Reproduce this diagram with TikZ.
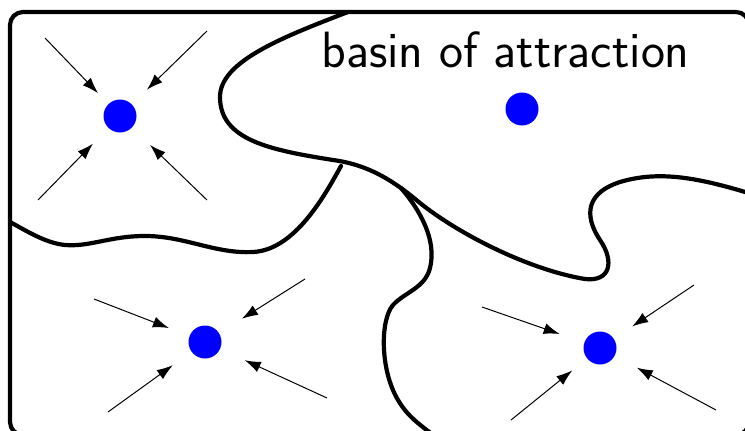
\documentclass[tikz,border=0pt]{standalone}
\usepackage{fontspec}
\usetikzlibrary{arrows.meta}
\begin{document}
\begin{tikzpicture}[x=1pt,y=-1pt,
  boundary/.style={line width=4.2pt, line cap=round, line join=round},
  attractor/.style={circle, fill=blue, minimum size=33pt, inner sep=0pt},
  flow/.style={line width=1pt, -{Latex[length=16pt,width=11pt]}},
]
\useasboundingbox (0,0) rectangle (745,431);
\clip (0,0) rectangle (745,431);
\draw[boundary, rounded corners=13pt] (10,12) rectangle (749,435);
% curve A
\draw[boundary] (348,12) .. controls (280,38) and (220,62) .. (220,97)
  .. controls (220,140) and (270,150) .. (333,160)
  .. controls (370,165) and (395,182) .. (420,203)
  .. controls (460,235) and (530,270) .. (585,279)
  .. controls (610,282) and (615,262) .. (600,240)
  .. controls (588,222) and (580,195) .. (620,182)
  .. controls (660,170) and (700,178) .. (755,195);
% curve B
\draw[boundary] (341,166) .. controls (325,195) and (295,250) .. (253,252)
  .. controls (215,254) and (185,236) .. (145,236)
  .. controls (110,236) and (90,247) .. (65,245)
  .. controls (45,243) and (25,230) .. (10,222);
% curve C
\draw[boundary] (401,188) .. controls (420,210) and (437,240) .. (430,268)
  .. controls (425,288) and (405,292) .. (393,305)
  .. controls (380,320) and (380,370) .. (398,400)
  .. controls (408,417) and (420,425) .. (440,440);
\node[font=\sffamily\fontsize{51}{60}\selectfont, anchor=base] (lbl) at (505.5,67) {basin of attraction};
\node[attractor] (d1) at (120,116) {};
\node[attractor] (d2) at (522,109) {};
\node[attractor] (d3) at (205,342) {};
\node[attractor] (d4) at (600,348) {};
% arrow sources
\coordinate (s1a) at (45,38);
\coordinate (s1b) at (207,31);
\coordinate (s1c) at (38,200);
\coordinate (s1d) at (207,200);
\coordinate (s3a) at (94,299);
\coordinate (s3b) at (305,279);
\coordinate (s3c) at (108,412);
\coordinate (s3d) at (327,398);
\coordinate (s4a) at (482,307);
\coordinate (s4b) at (694,285);
\coordinate (s4c) at (511,420);
\coordinate (s4d) at (716,410);
\draw[flow, shorten >=15pt] (s1a) -- (d1);
\draw[flow, shorten >=21pt] (s1b) -- (d1);
\draw[flow, shorten >=22pt] (s1c) -- (d1);
\draw[flow, shorten >=25pt] (s1d) -- (d1);
\draw[flow, shorten >=22pt] (s3a) -- (d3);
\draw[flow, shorten >=27pt] (s3b) -- (d3);
\draw[flow, shorten >=23pt] (s3c) -- (d3);
\draw[flow, shorten >=27pt] (s3d) -- (d3);
\draw[flow, shorten >=26pt] (s4a) -- (d4);
\draw[flow, shorten >=22pt] (s4b) -- (d4);
\draw[flow, shorten >=19pt] (s4c) -- (d4);
\draw[flow, shorten >=25pt] (s4d) -- (d4);
\end{tikzpicture}
\end{document}
